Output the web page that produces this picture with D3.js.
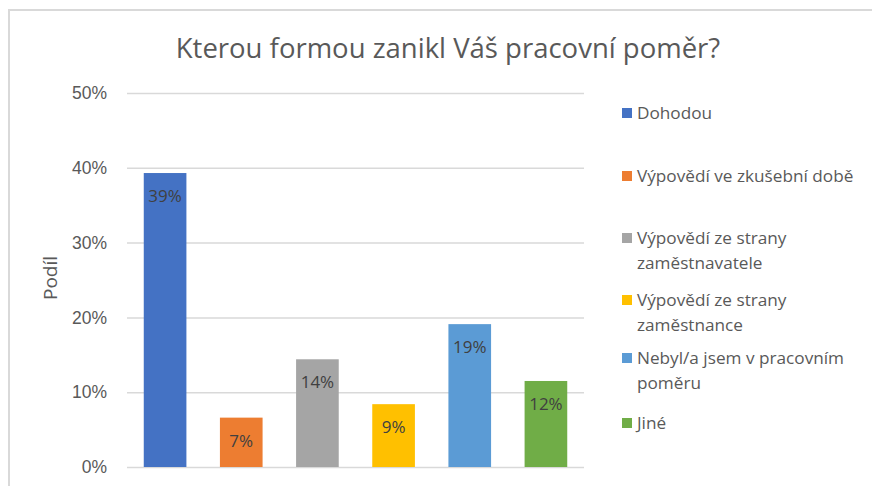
<!DOCTYPE html>
<html>
<head>
  <meta charset="UTF-8">
  <title>Kterou formou zanikl Váš pracovní poměr?</title>
  <script src="https://cdn.jsdelivr.net/npm/d3@7"></script>
  <style>
    body { margin: 0; background: #fff; }
    svg { display: block; font-family: "Open Sans", "Noto Sans", sans-serif; }
    .grid line { stroke: #d9d9d9; stroke-width: 1.5; }
    .grid path { display: none; }
    .y-axis path, .y-axis line { display: none; }
    .y-axis text { fill: #595959; font-size: 17.5px; }
  </style>
</head>
<body>
<div id="chart"></div>
<script>
  var categories = [
    'Dohodou',
    'Výpovědí ve zkušební době',
    'Výpovědí ze strany zaměstnavatele',
    'Výpovědí ze strany zaměstnance',
    'Nebyl/a jsem v pracovním poměru',
    'Jiné'
  ];
  var values = [0.393, 0.066, 0.144, 0.084, 0.191, 0.115];
  var valueLabels = ['39%', '7%', '14%', '9%', '19%', '12%'];
  var colors = ['#4472c4', '#ed7d31', '#a5a5a5', '#ffc000', '#5b9bd5', '#70ad47'];
  // legend text split into lines as in the original
  var legendLines = [
    ['Dohodou'],
    ['Výpovědí ve zkušební době'],
    ['Výpovědí ze strany', 'zaměstnavatele'],
    ['Výpovědí ze strany', 'zaměstnance'],
    ['Nebyl/a jsem v pracovním', 'poměru'],
    ['Jiné']
  ];
  var yTicks = [0, 0.1, 0.2, 0.3, 0.4, 0.5];

  var W = 872, H = 486;
  var plot = { left: 127, right: 584, top: 93, bottom: 467 };

  var svg = d3.select('#chart')
    .append('svg')
      .attr('width', W)
      .attr('height', H);

  // chart area border (only top and left visible in the crop)
  svg.append('path')
    .attr('d', 'M9,' + H + 'V10H' + W)
    .attr('fill', 'none')
    .attr('stroke', '#d9d9d9')
    .attr('stroke-width', 2);

  svg.append('text')
    .attr('x', 448)
    .attr('y', 58)
    .attr('text-anchor', 'middle')
    .attr('fill', '#595959')
    .style('font-size', '27.5px')
    .text('Kterou formou zanikl Váš pracovní poměr?');

  var yScale = d3.scaleLinear()
    .domain([0, 0.5])
    .range([plot.bottom, plot.top]);

  var xScale = d3.scaleBand()
    .domain(categories)
    .range([plot.left, plot.right])
    .paddingInner(0.44)
    .paddingOuter(0.22);

  // gridlines
  svg.append('g')
    .attr('class', 'grid')
    .attr('transform', 'translate(' + plot.left + ',0)')
    .call(d3.axisRight(yScale).tickValues(yTicks).tickSize(plot.right - plot.left).tickFormat(''));

  svg.append('g')
    .attr('class', 'y-axis')
    .attr('transform', 'translate(107,0)')
    .call(d3.axisLeft(yScale).tickValues(yTicks).tickSize(0).tickPadding(0).tickFormat(d3.format('.0%')));

  svg.append('text')
    .attr('transform', 'translate(57,278) rotate(-90)')
    .attr('text-anchor', 'middle')
    .attr('fill', '#595959')
    .style('font-size', '19px')
    .text('Podíl');

  var bars = svg.selectAll('.bar')
    .data(categories)
    .enter()
    .append('g')
    .attr('class', 'bar');

  bars.append('rect')
    .attr('x', d => xScale(d))
    .attr('y', (d, i) => yScale(values[i]))
    .attr('width', xScale.bandwidth())
    .attr('height', (d, i) => plot.bottom - yScale(values[i]))
    .attr('fill', (d, i) => colors[i]);

  bars.append('text')
    .attr('x', d => xScale(d) + xScale.bandwidth() / 2)
    .attr('y', (d, i) => yScale(values[i]) + 29)
    .attr('text-anchor', 'middle')
    .attr('fill', '#404040')
    .style('font-size', '17px')
    .text((d, i) => valueLabels[i]);

  // legend
  var legendY = [119, 182, 244, 306, 364, 429];
  var legend = svg.selectAll('.legend')
    .data(categories)
    .enter()
    .append('g')
    .attr('class', 'legend')
    .attr('transform', (d, i) => 'translate(622,' + legendY[i] + ')');

  legend.append('rect')
    .attr('x', 0)
    .attr('y', -11)
    .attr('width', 10)
    .attr('height', 10)
    .attr('fill', (d, i) => colors[i]);

  legend.append('text')
    .attr('fill', '#595959')
    .style('font-size', '17.2px')
    .selectAll('tspan')
    .data((d, i) => legendLines[i])
    .enter()
    .append('tspan')
    .attr('x', 15)
    .attr('y', (d, j) => j * 25)
    .text(d => d);
</script>
</body>
</html>
